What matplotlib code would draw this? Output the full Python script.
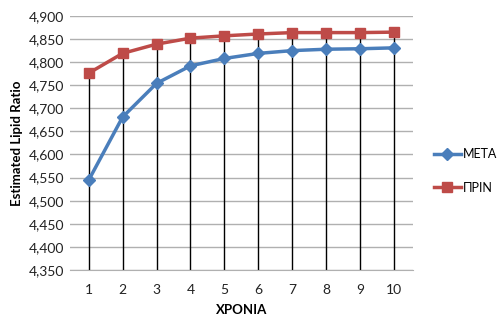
import matplotlib
matplotlib.use("Agg")
import matplotlib.pyplot as plt
from matplotlib.ticker import FuncFormatter
import numpy as np

plt.rcParams['font.family'] = ['Lato', 'DejaVu Sans']

years = [1, 2, 3, 4, 5, 6, 7, 8, 9, 10]
meta = [4.544, 4.681, 4.754, 4.792, 4.808, 4.819, 4.825, 4.828, 4.829, 4.831]
prin = [4.776, 4.819, 4.839, 4.852, 4.857, 4.861, 4.864, 4.864, 4.864, 4.865]
yticks = np.arange(4.35, 4.9001, 0.05)

fig = plt.figure(figsize=(5.03, 3.26), dpi=100)
ax = fig.add_axes([0.139, 0.172, 0.682, 0.779])

ax.set_xlim(0.45, 10.55)
ax.set_ylim(4.35, 4.90)
ax.set_yticks(yticks)
ax.yaxis.set_major_formatter(FuncFormatter(lambda v, p: f"{v:.3f}".replace('.', ',')))
ax.set_xticks(years)
ax.grid(axis='y', color='#b0b0b0', linewidth=1.0)
ax.set_axisbelow(True)

top = np.maximum(meta, prin)
ax.vlines(years, 4.35, top, color='black', linewidth=1.0, zorder=2)

ax.plot(years, meta, color='#4a7ebb', linewidth=2.5, marker='D', markersize=6,
        label='ΜΕΤΑ', zorder=3)
ax.plot(years, prin, color='#be4b48', linewidth=2.5, marker='s', markersize=7,
        label='ΠΡΙΝ', zorder=4)

for s in ['top', 'right', 'left']:
    ax.spines[s].set_visible(False)
ax.spines['bottom'].set_color('#b0b0b0')
ax.tick_params(axis='y', length=0, pad=4, labelsize=10, colors='#222222')
ax.tick_params(axis='x', length=0, pad=10, labelsize=10, colors='#222222')

ax.set_xlabel('ΧΡΟΝΙΑ', fontweight='bold', fontsize=9.5, labelpad=6)
ax.set_ylabel('Estimated Lipid Ratio', fontweight='bold', fontsize=9.5, labelpad=4)

ax.legend(loc='center left', bbox_to_anchor=(1.035, 0.39), frameon=False,
          fontsize=9, handlelength=2.2, labelspacing=1.75, handletextpad=0.15,
          borderpad=0.2)

fig.savefig('out.png', dpi=100)
